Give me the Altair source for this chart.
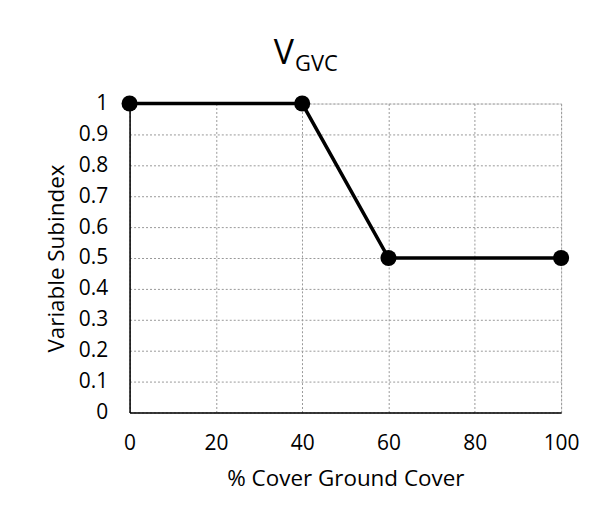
import altair as alt
import pandas as pd

cover = [0, 40, 60, 100]
subindex = [1.0, 1.0, 0.5, 0.5]
x_ticks = [0, 20, 40, 60, 80, 100]
y_ticks = [0, 0.1, 0.2, 0.3, 0.4, 0.5, 0.6, 0.7, 0.8, 0.9, 1.0]

df = pd.DataFrame({"cover": cover, "subindex": subindex})
FONT = "Open Sans"

x = alt.X("cover:Q", scale=alt.Scale(domain=[0, 100], nice=False),
          axis=alt.Axis(values=x_ticks, title="% Cover Ground Cover", format="d",
                        grid=True, gridDash=[2, 2], gridColor="#999", gridWidth=1,
                        ticks=False, domain=True, domainColor="#000", domainWidth=1.5,
                        labelFlush=False, labelOverlap=False,
                        labelPadding=20, labelFontSize=21, labelFont=FONT, labelColor="#000",
                        titleFontSize=22.5, titleFont=FONT, titleColor="#000", titleFontWeight="normal",
                        titlePadding=14))
y = alt.Y("subindex:Q", scale=alt.Scale(domain=[0, 1], nice=False),
          axis=alt.Axis(values=y_ticks, title="Variable Subindex",
                        labelExpr="datum.value == 0 ? '0' : datum.value == 1 ? '1' : format(datum.value, '.1f')",
                        grid=True, gridDash=[2, 2], gridColor="#999", gridWidth=1,
                        ticks=False, domain=True, domainColor="#000", domainWidth=1.5,
                        labelFlush=False, labelOverlap=False,
                        labelPadding=22, labelFontSize=21, labelFont=FONT, labelColor="#000",
                        titleFontSize=22.5, titleFont=FONT, titleColor="#000", titleFontWeight="normal",
                        titlePadding=10))

base = alt.Chart(df)
line = base.mark_line(color="#000", strokeWidth=3.5).encode(x=x, y=y)
pts = base.mark_circle(color="#000", opacity=1, size=260).encode(x=x, y=y)

title_v = alt.Chart(pd.DataFrame({"t": ["V"]})).mark_text(
    font=FONT, fontSize=34, color="#000", align="right", baseline="alphabetic"
).encode(text="t:N", x=alt.value(165), y=alt.value(-40))
title_sub = alt.Chart(pd.DataFrame({"t": ["GVC"]})).mark_text(
    font=FONT, fontSize=22, color="#000", align="left", baseline="alphabetic"
).encode(text="t:N", x=alt.value(166), y=alt.value(-33))

chart = alt.layer(line, pts, title_v, title_sub).properties(
    width=433, height=310,
    padding={"left": 122, "top": 95, "right": 30, "bottom": 100},
    autosize=alt.AutoSizeParams(type="none"),
).configure_view(stroke=None).configure(background="white")

chart.save("out.html", embed_options={"renderer": "svg", "actions": False})
